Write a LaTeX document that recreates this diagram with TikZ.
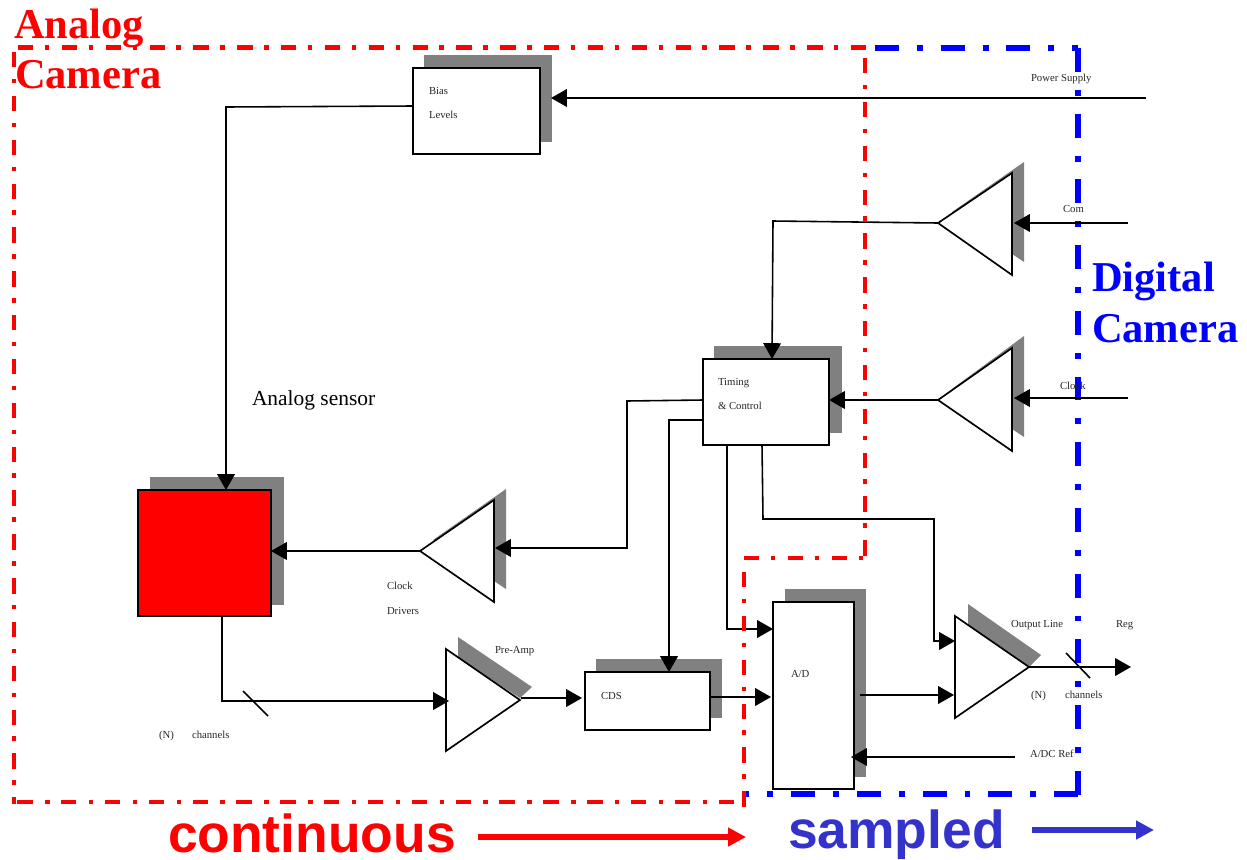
\documentclass[tikz,border=0pt]{standalone}
\usepackage{fontspec}
\setmainfont{Liberation Serif}
\newfontfamily\arialfont{Liberation Sans}
\usetikzlibrary{arrows.meta}
\definecolor{shadowgray}{RGB}{128,128,128}
\definecolor{sampleblue}{RGB}{51,51,204}
\tikzset{
  x=0.02cm,y=-0.02cm,
  shadow/.style={fill=shadowgray,draw=none},
  box/.style={draw=black,fill=white,line width=1.1pt,inner sep=0pt,outer sep=0pt},
  amp/.style={draw=black,fill=white,line width=0.95pt,line join=miter},
  wire/.style={draw=black,line width=0.9pt},
  conn/.style={wire,-{Triangle[length=9pt,width=10pt]}},
  redframe/.style={draw=red,line width=2.3pt,dash pattern=on 8.8pt off 6.5pt on 2.55pt off 7.1pt},
  blueframe/.style={draw=blue,line width=3.4pt,dash pattern=on 13.6pt off 10.2pt on 3.4pt off 10.2pt},
  tiny label/.style={anchor=base west,inner sep=0pt,outer sep=0pt,font=\fontsize{6.1}{7}\selectfont,text=black!85},
  mid label/.style={anchor=base west,inner sep=0pt,outer sep=0pt,font=\fontsize{12.2}{14}\selectfont,text=black},
  big label/.style={anchor=base west,inner sep=0pt,outer sep=0pt,font=\fontsize{24.2}{28}\selectfont\bfseries},
  sans label/.style={anchor=base west,inner sep=0pt,outer sep=0pt,font=\arialfont\fontsize{30.4}{34}\selectfont\bfseries},
}
\begin{document}
\begin{tikzpicture}
\useasboundingbox (0,0) rectangle (1247,859);

% frames
\coordinate (rA) at (18,47.5);   \coordinate (rB) at (866,47.5);
\coordinate (rC) at (14,52);     \coordinate (rD) at (14,804);
\coordinate (rE) at (734,802);   \coordinate (rF) at (14,802);
\coordinate (rG) at (865,58);    \coordinate (rH) at (865,559);
\coordinate (rI) at (744,558);   \coordinate (rJ) at (865,558);
\coordinate (rK) at (744,572);   \coordinate (rL) at (744,807);
\coordinate (bA) at (875,48);    \coordinate (bB) at (1078,48);
\coordinate (bC) at (1078,48);   \coordinate (bD) at (1078,795);
\coordinate (bE) at (1078,794);  \coordinate (bF) at (744,794);
\draw[redframe] (rA) -- (rB);
\draw[redframe] (rC) -- (rD);
\draw[redframe] (rE) -- (rF);
\draw[redframe] (rG) -- (rH);
\draw[redframe] (rI) -- (rJ);
\draw[blueframe] (bA) -- (bB);
\draw[blueframe] (bC) -- (bD);
\draw[blueframe] (bE) -- (bF);

% shadows
\fill[shadow] (424,55) rectangle (552,142);
\fill[shadow] (714,346) rectangle (842,433);
\fill[shadow] (150,477) rectangle (284,605);
\fill[shadow] (596,659) rectangle (722,718);
\fill[shadow] (785,589) rectangle (866,777);
\fill[shadow] (952,212) -- (1024,162) -- (1024,262) -- (1012,254) -- cycle;
\fill[shadow] (952,389) -- (1024,336) -- (1024,437) -- (1012,429) -- cycle;
\fill[shadow] (433,540) -- (506,489) -- (506,589) -- (494,581) -- cycle;
\fill[shadow] (458,637) -- (532,687) -- (520,698) -- (458,658) -- cycle;
\fill[shadow] (968,604) -- (1041,655) -- (1029,667) -- (968,625) -- cycle;

% boxes
\node[box,minimum width=2.54cm,minimum height=1.72cm] (bias) at (476.5,111) {};
\node[box,minimum width=2.52cm,minimum height=1.72cm] (timing) at (766,402) {};
\node[box,fill=red,minimum width=2.66cm,minimum height=2.52cm] (sensor) at (204.5,553) {};
\node[box,minimum width=2.5cm,minimum height=1.16cm] (cds) at (647.5,701) {};
\node[box,minimum width=1.62cm,minimum height=3.74cm] (ad) at (813.5,695.5) {};

% amplifiers
\coordinate (comtip) at (938,223);
\coordinate (clktip) at (938,400);
\coordinate (drvtip) at (420,551);
\coordinate (pretip) at (520,700);
\coordinate (outtip) at (1029,667);
\draw[amp] (comtip) -- (1012,173) -- (1012,275) -- cycle;
\draw[amp] (clktip) -- (1012,348) -- (1012,451) -- cycle;
\draw[amp] (drvtip) -- (494,500) -- (494,602) -- cycle;
\draw[amp] (pretip) -- (446,649) -- (446,751) -- cycle;
\draw[amp] (outtip) -- (955,616) -- (955,718) -- cycle;

% connector ends
\coordinate (pwrsrc) at (1146,98);  \coordinate (pwrdst) at (551,98);
\coordinate (comsrc) at (1128,223); \coordinate (comdst) at (1014,223);
\coordinate (clksrc) at (1128,398); \coordinate (clkdst) at (1014,398);
\coordinate (drvdst) at (495,548);
\coordinate (preend) at (449,701);
\coordinate (preout) at (521,698);  \coordinate (cdsin) at (582,698);
\coordinate (adout) at (860,695);   \coordinate (outin) at (954,695);
\coordinate (refsrc) at (1015,757); \coordinate (refdst) at (851,757);
\coordinate (outend) at (1131,667);
\coordinate (bigA) at (478,837);    \coordinate (bigB) at (746,837);
\coordinate (bigC) at (1032,830);   \coordinate (bigD) at (1154,830);
\coordinate (slashA) at (243,691);  \coordinate (slashB) at (268,716);
\coordinate (slashC) at (1066,653); \coordinate (slashD) at (1090,678);

% connectors
\draw[conn] (pwrsrc) -- (pwrdst);
\draw[conn] (bias.west |- 0,106) -- (226,107) -- (sensor.north -| 226,0);
\draw[conn] (comsrc) -- (comdst);
\draw[conn] (comtip) -- (773,221) -- (timing.north -| 772,0);
\draw[conn] (clksrc) -- (clkdst);
\draw[conn] (clktip) -- (timing.east |- 0,400);
\draw[conn] (timing.west |- 0,400) -- (627,401) -- (627,548) -- (drvdst);
\draw[conn] (drvtip) -- (sensor.east |- 0,551);
\draw[conn] (timing.west |- 0,420) -- (669,420) -- (cds.north -| 669,0);
\draw[conn] (timing.south -| 727,0) -- (727,629) -- (ad.west |- 0,629);
\draw[conn] (timing.south -| 762,0) -- (763,519) -- (934,519) -- (934,641) -- (955,641);
\draw[conn] (sensor.south -| 222,0) -- (222,701) -- (preend);
\draw[conn] (preout) -- (cdsin);
\draw[conn] (cds.east |- 0,697) -- (771,697);
\draw[conn] (adout) -- (outin);
\draw[conn] (refsrc) -- (refdst);
\draw[conn] (outtip) -- (outend);
\draw[wire] (slashA) -- (slashB);
\draw[wire] (slashC) -- (slashD);
\draw[redframe] (rK) -- (rL);

% big arrows
\draw[draw=red,line width=3.4pt,-{Triangle[length=10.2pt,width=10.2pt]}] (bigA) -- (bigB);
\draw[draw=sampleblue,line width=3.4pt,-{Triangle[length=10.2pt,width=10.2pt]}] (bigC) -- (bigD);

% labels
\node[tiny label] (tBias) at (429,94) {Bias};
\node[tiny label] (tLevels) at (429,118) {Levels};
\node[tiny label] (tTiming) at (718,385) {Timing};
\node[tiny label] (tControl) at (718,409) {\& Control};
\node[tiny label] (tPower) at (1031,81) {Power Supply};
\node[tiny label] (tCom) at (1063,212) {Com};
\node[tiny label] (tClk) at (1060,389) {Clock};
\node[tiny label] (tClock) at (387,589) {Clock};
\node[tiny label] (tDrivers) at (387,614) {Drivers};
\node[tiny label] (tPre) at (495,653) {Pre-Amp};
\node[tiny label] (tCDS) at (601,699) {CDS};
\node[tiny label] (tAD) at (791,677) {A/D};
\node[tiny label] (tOutput) at (1011,627) {Output Line};
\node[tiny label] (tReg) at (1116,627) {Reg};
\node[tiny label] (tN) at (1031,698) {(N)};
\node[tiny label] (tChan) at (1065,698) {channels};
\node[tiny label] (tRef) at (1030,757) {A/DC Ref};
\node[tiny label] (tNb) at (159,738) {(N)};
\node[tiny label] (tChanb) at (192,738) {channels};
\node[mid label] (tSensor) at (252,405) {Analog sensor};
\node[big label,text=red] (tAnalog) at (14,38) {Analog};
\node[big label,text=red] (tCamera) at (15,88) {Camera};
\node[big label,text=blue] (tDigital) at (1092,291) {Digital};
\node[big label,text=blue] (tCameraD) at (1092,342) {Camera};
\node[sans label,text=red] (tCont) at (168,852) {continuous};
\node[sans label,text=sampleblue] (tSamp) at (788,848) {sampled};
\end{tikzpicture}
\end{document}
